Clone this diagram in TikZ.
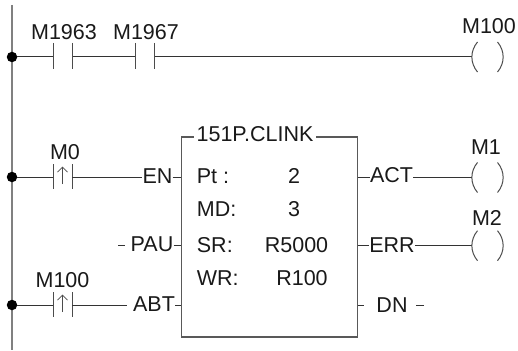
\documentclass[tikz,border=0pt]{standalone}
\usepackage{fontspec}
\setmainfont{Liberation Sans}
\usetikzlibrary{arrows.meta}
\tikzset{
  rail/.style={line width=2pt, color=black!50},
  junction/.style={circle, fill=black, inner sep=0pt, minimum size=10.5pt},
  wire/.style={line width=1pt, color=black!80},
  bar/.style={line width=1pt, color=black!70},
  coilarc/.style={line width=1pt, color=black!70},
  blockbox/.style={draw=black!65, line width=1.4pt, inner sep=0pt, minimum width=175.5pt, minimum height=200pt},
  lbl/.style={inner sep=0pt, font=\fontsize{21.5}{24}\selectfont, color=black!90},
  edge/.style={line width=.8pt, -{Straight Barb[length=5pt,width=10pt]}, color=black!70}
}
\begin{document}
\begin{tikzpicture}[x=1pt, y=-1pt]
      \useasboundingbox (0,0) rectangle (518,350);
      %%rail
      \coordinate (railtop) at (12, 5);
      \coordinate (railbot) at (12, 350);
      \draw[rail] (railtop) to (railbot);
      \node[junction] (dotA) at (12, 57){};
      \node[junction] (dotB) at (12, 177){};
      \node[junction] (dotC) at (12, 305){};

      %%first rung
      \coordinate (ca1) at (53.5, 57);
      \coordinate (ca2) at (72, 57);
      \coordinate (cb1) at (135.5, 57);
      \coordinate (cb2) at (154, 57);
      \coordinate (coilA) at (472, 57);
      \draw[wire] (dotA) to (ca1);
      \draw[wire] (ca2) to (cb1);
      \draw[wire] (cb2) to (coilA);
        \draw[bar] (ca1) ++(0, -14) to ++(0, 26);
        \draw[bar] (ca2) ++(0, -14) to ++(0, 26);
        \draw[bar] (cb1) ++(0, -14) to ++(0, 26);
        \draw[bar] (cb2) ++(0, -14) to ++(0, 26);
      \node[lbl] (m1963) at (64, 32){M1963};
      \node[lbl] (m1967) at (146, 32){M1967};
      \node[lbl] (m100a) at (489, 26){M100};
        \draw[coilarc] (coilA) ++(5.5, -15) to[bend right=40] ++(0, 30);
        \draw[coilarc] (coilA) ++(25.5, -15) to[bend left=40] ++(0, 30);

      %%block
      \node[blockbox] (clink) at (269.5, 236.8){};
      \node[lbl, fill=white, inner xsep=3pt] (title) at (255, 134.5){151P.CLINK};
      \node[lbl] (pt) at (196.7, 176)[anchor=west]{Pt :};
      \node[lbl] (md) at (196.7, 209)[anchor=west]{MD:};
      \node[lbl] (sr) at (196.7, 245)[anchor=west]{SR:};
      \node[lbl] (wr) at (196.7, 278)[anchor=west]{WR:};
      \node[lbl] (ptval) at (294, 176){2};
      \node[lbl] (mdval) at (294, 209){3};
      \node[lbl] (srval) at (296.5, 245){R5000};
      \node[lbl] (wrval) at (302, 278){R100};

      %%EN rung
      \coordinate (cc1) at (53.5, 177);
      \coordinate (cc2) at (72, 177);
      \draw[wire] (dotB) to (cc1);
        \draw[bar] (cc1) ++(0, -13) to ++(0, 25);
        \draw[bar] (cc2) ++(0, -13) to ++(0, 25);
        \draw[edge] (62.5, 184) to (62.5, 166.5);
      \node[lbl] (m0) at (65, 152){M0};
      \node[lbl] (en) at (157.5, 176){EN};
      \draw[wire] (cc2) to (en.west |- cc2);
      \draw[wire] (en.east |- cc2) to (clink.west |- cc2);

      %%PAU
      \node[lbl] (pau) at (152, 244){PAU};
      \coordinate (pauend) at (118, 245.7);
      \draw[wire] (pauend) to +(7, 0);
      \draw[wire] (pau.east |- pauend) to (clink.west |- pauend);

      %%ABT rung
      \coordinate (cd1) at (53.5, 305);
      \coordinate (cd2) at (72, 305);
      \draw[wire] (dotC) to (cd1);
        \draw[bar] (cd1) ++(0, -13) to ++(0, 25);
        \draw[bar] (cd2) ++(0, -13) to ++(0, 25);
        \draw[edge] (62.5, 312) to (62.5, 294.5);
      \node[lbl] (m100b) at (62.5, 280){M100};
      \node[lbl] (abt) at (154, 304){ABT};
      \draw[wire] (cd2) to (127, 305);
      \draw[wire] (abt.east |- cd2) to (clink.west |- cd2);

      %%ACT
      \coordinate (coilB) at (472, 177.5);
      \node[lbl] (act) at (391.5, 175){ACT};
      \draw[wire] (clink.east |- coilB) to (act.west |- coilB);
      \draw[wire] (act.east |- coilB) to (coilB);
        \draw[coilarc] (coilB) ++(5.5, -15) to[bend right=40] ++(0, 30);
        \draw[coilarc] (coilB) ++(25.5, -15) to[bend left=40] ++(0, 30);
      \node[lbl] (m1) at (486, 147.5){M1};

      %%ERR
      \coordinate (coilC) at (472, 245.7);
      \node[lbl] (err) at (392, 245){ERR};
      \draw[wire] (clink.east |- coilC) to (err.west |- coilC);
      \draw[wire] (err.east |- coilC) to (coilC);
        \draw[coilarc] (coilC) ++(5.5, -15) to[bend right=40] ++(0, 30);
        \draw[coilarc] (coilC) ++(25.5, -15) to[bend left=40] ++(0, 30);
      \node[lbl] (m2) at (487, 218){M2};

      %%DN
      \coordinate (dnend) at (424, 305);
      \node[lbl] (dn) at (392, 305){DN};
      \draw[wire] (clink.east |- dnend) to +(6, 0);
      \draw[wire] (dnend) to +(-8, 0);
\end{tikzpicture}
\end{document}
